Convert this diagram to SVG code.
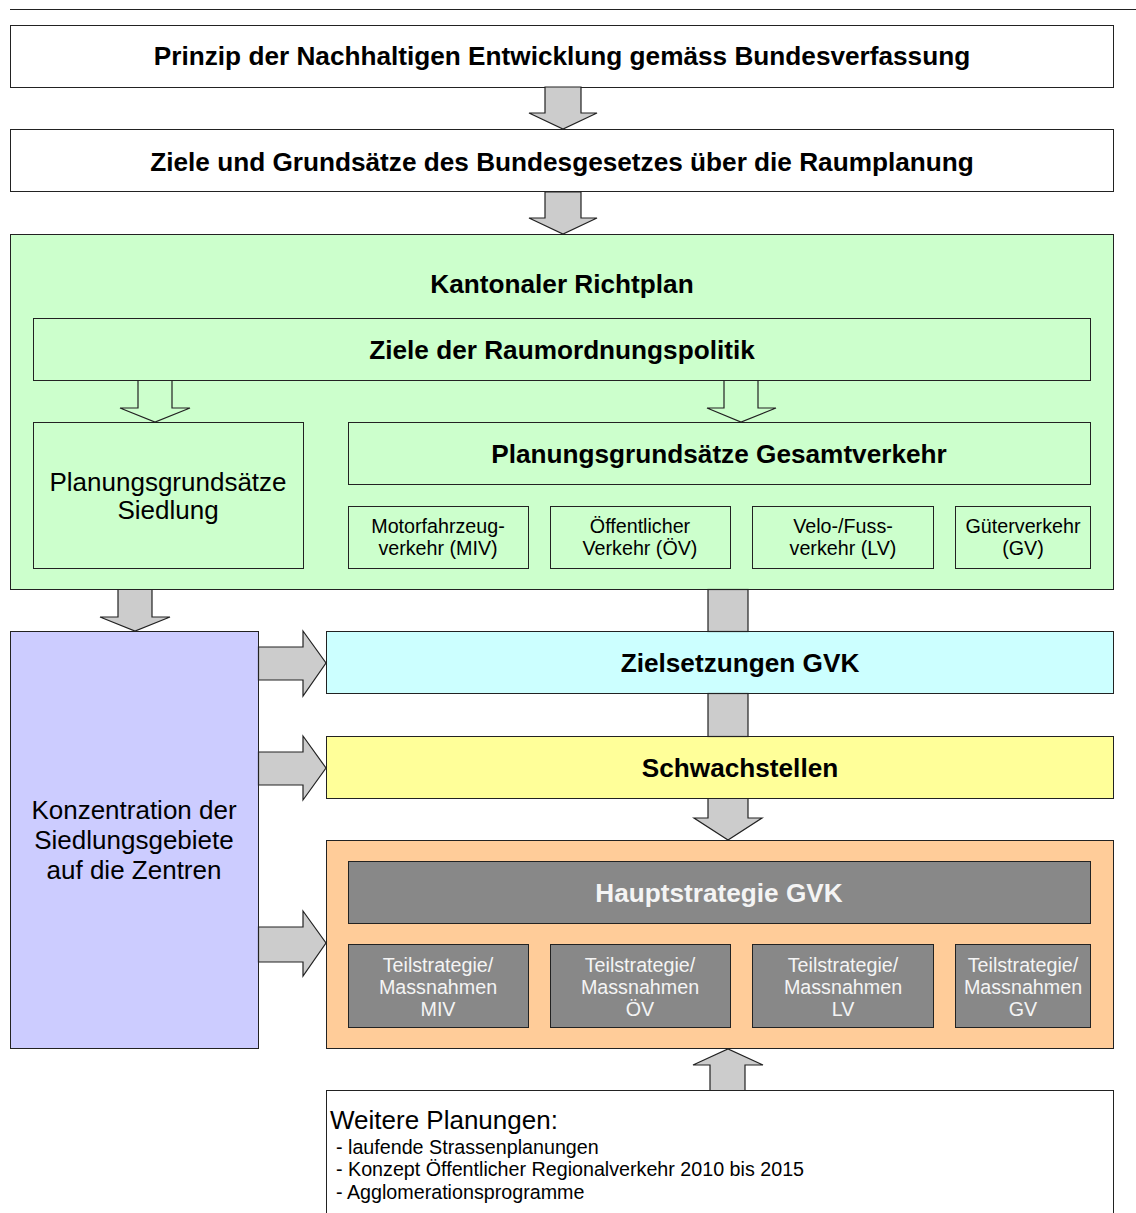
<svg xmlns="http://www.w3.org/2000/svg" width="1136" height="1213" viewBox="0 0 1136 1213">
<style>
text{font-family:"Liberation Sans",Arial,sans-serif;fill:#000;text-anchor:middle}
.b{font-weight:bold;font-size:26.2px}
.n{font-size:26px}
.s{font-size:19.7px}
.w{fill:#f4f4f4}
.box{stroke:#222;stroke-width:1}
.arr{fill:#cccccc;stroke:#222;stroke-width:1.2;stroke-linejoin:miter}
.hol{fill:#ccffcc;stroke:#222;stroke-width:1.2}
</style>
<rect width="1136" height="1213" fill="#fff"/>
<line x1="10" y1="9.5" x2="1136" y2="9.5" stroke="#222" stroke-width="1"/>
<g id="n-prinzip">
<rect class="box" x="10.5" y="25.5" width="1103" height="62" fill="#fff"/>
<text class="b" x="562" y="65">Prinzip der Nachhaltigen Entwicklung gemäss Bundesverfassung</text>
</g>
<g id="n-ziele-rpg">
<rect class="box" x="10.5" y="129.5" width="1103" height="62" fill="#fff"/>
<text class="b" x="562" y="171">Ziele und Grundsätze des Bundesgesetzes über die Raumplanung</text>
</g>
<g id="n-richtplan">
<rect class="box" x="10.5" y="234.5" width="1103" height="355" fill="#ccffcc"/>
<text class="b" x="562" y="293">Kantonaler Richtplan</text>
</g>
<g id="n-raumordnung">
<rect class="box" x="33.5" y="318.5" width="1057" height="62" fill="#ccffcc"/>
<text class="b" x="562" y="359">Ziele der Raumordnungspolitik</text>
</g>
<g id="n-siedlung">
<rect class="box" x="33.5" y="422.5" width="270" height="146" fill="#ccffcc"/>
<text class="n" x="168" y="491">Planungsgrundsätze</text>
<text class="n" x="168" y="519">Siedlung</text>
</g>
<g id="n-gesamtverkehr">
<rect class="box" x="348.5" y="422.5" width="742" height="62" fill="#ccffcc"/>
<text class="b" x="719" y="463">Planungsgrundsätze Gesamtverkehr</text>
</g>
<g id="n-miv">
<rect class="box" x="348.5" y="506.5" width="180" height="62" fill="#ccffcc"/>
<text class="s" x="438" y="533">Motorfahrzeug-</text>
<text class="s" x="438" y="555">verkehr (MIV)</text>
</g>
<g id="n-oev">
<rect class="box" x="550.5" y="506.5" width="180" height="62" fill="#ccffcc"/>
<text class="s" x="640" y="533">Öffentlicher</text>
<text class="s" x="640" y="555">Verkehr (ÖV)</text>
</g>
<g id="n-lv">
<rect class="box" x="752.5" y="506.5" width="181" height="62" fill="#ccffcc"/>
<text class="s" x="843" y="533">Velo-/Fuss-</text>
<text class="s" x="843" y="555">verkehr (LV)</text>
</g>
<g id="n-gv">
<rect class="box" x="955.5" y="506.5" width="135" height="62" fill="#ccffcc"/>
<text class="s" x="1023" y="533">Güterverkehr</text>
<text class="s" x="1023" y="555">(GV)</text>
</g>
<g id="n-konzentration">
<rect class="box" x="10.5" y="631.5" width="248" height="417" fill="#ccccff"/>
<text class="n" x="134" y="819">Konzentration der</text>
<text class="n" x="134" y="849">Siedlungsgebiete</text>
<text class="n" x="134" y="879">auf die Zentren</text>
</g>
<g id="n-zielsetzungen">
<rect class="box" x="326.5" y="631.5" width="787" height="62" fill="#ccffff"/>
<text class="b" x="740" y="672">Zielsetzungen GVK</text>
</g>
<g id="n-schwachstellen">
<rect class="box" x="326.5" y="736.5" width="787" height="62" fill="#ffff99"/>
<text class="b" x="740" y="777">Schwachstellen</text>
</g>
<g id="n-strategie">
<rect class="box" x="326.5" y="840.5" width="787" height="208" fill="#ffcc99"/>
</g>
<g id="n-hauptstrategie">
<rect class="box" x="348.5" y="861.5" width="742" height="62" fill="#888888"/>
<text class="b w" x="719" y="902">Hauptstrategie GVK</text>
</g>
<g id="n-t-miv">
<rect class="box" x="348.5" y="944.5" width="180" height="83" fill="#888888"/>
<text class="s w" x="438" y="972">Teilstrategie/</text>
<text class="s w" x="438" y="994">Massnahmen</text>
<text class="s w" x="438" y="1016">MIV</text>
</g>
<g id="n-t-oev">
<rect class="box" x="550.5" y="944.5" width="180" height="83" fill="#888888"/>
<text class="s w" x="640" y="972">Teilstrategie/</text>
<text class="s w" x="640" y="994">Massnahmen</text>
<text class="s w" x="640" y="1016">ÖV</text>
</g>
<g id="n-t-lv">
<rect class="box" x="752.5" y="944.5" width="181" height="83" fill="#888888"/>
<text class="s w" x="843" y="972">Teilstrategie/</text>
<text class="s w" x="843" y="994">Massnahmen</text>
<text class="s w" x="843" y="1016">LV</text>
</g>
<g id="n-t-gv">
<rect class="box" x="955.5" y="944.5" width="135" height="83" fill="#888888"/>
<text class="s w" x="1023" y="972">Teilstrategie/</text>
<text class="s w" x="1023" y="994">Massnahmen</text>
<text class="s w" x="1023" y="1016">GV</text>
</g>
<g id="n-weitere">
<rect class="box" x="326.5" y="1090.5" width="787" height="130" fill="#fff"/>
<text class="n" x="330" y="1129" style="text-anchor:start">Weitere Planungen:</text>
<text class="s" x="336" y="1154" style="text-anchor:start">- laufende Strassenplanungen</text>
<text class="s" x="336" y="1176" style="text-anchor:start">- Konzept Öffentlicher Regionalverkehr 2010 bis 2015</text>
<text class="s" x="336" y="1199" style="text-anchor:start">- Agglomerationsprogramme</text>
</g>
<g id="connectors">
<polygon class="arr" points="545,87 581,87 581,113 597,113 563,129 529,113 545,113"/>
<polygon class="arr" points="545,192 581,192 581,218 597,218 563,234 529,218 545,218"/>
<polygon class="hol" points="138,380.5 172,380.5 172,408 190,408 155,422 120,408 138,408"/>
<polygon class="hol" points="724,380.5 758,380.5 758,408 776,408 741,422 707,408 724,408"/>
<polygon class="arr" points="118,589.5 152,589.5 152,617 170,617 135,631 100,617 118,617"/>
<polygon class="arr" points="258.5,647 303,647 303,631 326,663 303,696 303,680 258.5,680"/>
<polygon class="arr" points="258.5,752 303,752 303,736 326,768 303,800 303,785 258.5,785"/>
<polygon class="arr" points="258.5,927 303,927 303,911 326,943 303,976 303,962 258.5,962"/>
<rect class="arr" x="708" y="589.5" width="40" height="42"/>
<rect class="arr" x="708" y="693.5" width="40" height="43"/>
<polygon class="arr" points="708,798.5 748,798.5 748,818 762,818 728,840 694,818 708,818"/>
<polygon class="arr" points="710,1090.5 745,1090.5 745,1065 763,1065 728,1049 693,1065 710,1065"/>
</g>
</svg>
